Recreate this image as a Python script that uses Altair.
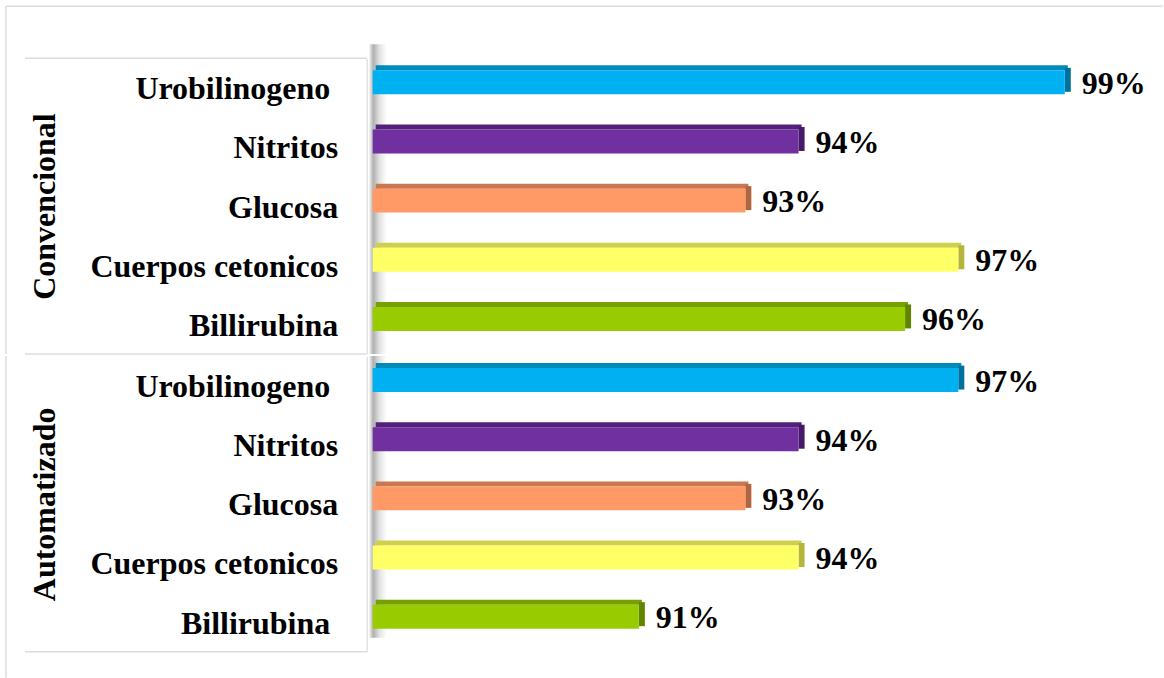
import altair as alt
import pandas as pd

groups = ["Convencional", "Automatizado"]
categories = ["Urobilinogeno", "Nitritos", "Glucosa", "Cuerpos cetonicos", "Billirubina"]
conv_values = [99, 94, 93, 97, 96]
auto_values = [97, 94, 93, 94, 91]
front_colors = ["#00B0F0", "#7030A0", "#FF9966", "#FFFF66", "#99CC00"]
top_colors = ["#0089BD", "#53217A", "#C9774F", "#CFCF4E", "#76A000"]
side_colors = ["#00719C", "#461A66", "#B0653F", "#B5B53C", "#628500"]
x_domain = [86, 100]

FONT = "Liberation Serif"
LINE = "#D9DEE3"
W, H = 746, 296
FS = 32


def panel(group, values, is_top, pad_expr):
    df = pd.DataFrame({
        "label": categories,
        "value": values,
        "front": front_colors,
        "topc": top_colors,
        "side": side_colors,
    })
    df["txt"] = [f"{v}%" for v in values]
    one = pd.DataFrame({"k": [0]})

    y = alt.Y(
        "label:N",
        sort=categories,
        scale=alt.Scale(paddingInner=0, paddingOuter=0),
        axis=alt.Axis(
            title=group, titleFont=FONT, titleFontSize=FS, titleFontWeight="bold",
            titleColor="black", titleX=-322, titleAlign="center", titleBaseline="middle",
            titleAngle=270,
            labelFont=FONT, labelFontSize=FS, labelFontWeight="bold", labelColor="black",
            labelOffset=1.5,
            labelPadding=alt.expr(pad_expr), labelLimit=500, ticks=False, grid=False,
            domainColor=LINE, domainWidth=1.2, offset=6,
        ),
    )
    x = alt.X("value:Q", scale=alt.Scale(domain=x_domain, nice=False, zero=False), axis=None)
    base = alt.Chart(df)

    wall = alt.Chart(one).mark_rect(
        color=alt.Gradient(
            gradient="linear", x1=0, x2=1, y1=0, y2=0,
            stops=[alt.GradientStop(color="#FFFFFF", offset=0),
                   alt.GradientStop(color="#B0B0B0", offset=0.25),
                   alt.GradientStop(color="#E2E2E2", offset=0.6),
                   alt.GradientStop(color="#FFFFFF", offset=1)],
        )
    ).encode(
        x=alt.value(-4), x2=alt.value(14),
        y=alt.value(-14 if is_top else 0), y2=alt.value(H if is_top else 282),
    )

    rules = [
        alt.Chart(one).mark_rule(color=LINE, strokeWidth=1.5).encode(
            x=alt.value(-348), x2=alt.value(-6), y=alt.value(H)),
        alt.Chart(one).mark_rule(color=LINE, strokeWidth=1.5).encode(
            x=alt.value(-367), y=alt.value(-52 if is_top else 0), y2=alt.value(H if is_top else 322)),
    ]
    if is_top:
        rules += [
            alt.Chart(one).mark_rule(color=LINE, strokeWidth=1.5).encode(
                x=alt.value(-348), x2=alt.value(-6), y=alt.value(0)),
            alt.Chart(one).mark_rule(color=LINE, strokeWidth=1.5).encode(
                x=alt.value(-367), x2=alt.value(791), y=alt.value(-52)),
        ]

    top_face = base.mark_bar(height=5, yOffset=-20, xOffset=3, x2Offset=3).encode(
        y=y, x=x, x2=alt.X2(datum=x_domain[0]), color=alt.Color("topc:N", scale=None))
    side_face = base.mark_bar(height=24, yOffset=-8, x2Offset=6).encode(
        y=y, x=x, x2=alt.X2("value:Q"), color=alt.Color("side:N", scale=None))
    front_face = base.mark_bar(height=24, yOffset=-5.5).encode(
        y=y, x=x, x2=alt.X2(datum=x_domain[0]), color=alt.Color("front:N", scale=None))
    text = base.mark_text(
        align="left", baseline="middle", dx=17, dy=-4,
        font=FONT, fontSize=FS, fontWeight="bold", color="black",
    ).encode(y=y, x=x, text="txt:N")

    return alt.layer(wall, *rules, top_face, side_face, front_face, text).properties(width=W, height=H)


chart = alt.vconcat(
    panel(groups[0], conv_values, True, "datum.value == 'Urobilinogeno' ? 37 : 29"),
    panel(groups[1], auto_values, False,
          "datum.value == 'Urobilinogeno' || datum.value == 'Billirubina' ? 37 : 29"),
    spacing=0,
).properties(
    padding={"left": 5, "top": 5, "right": 0, "bottom": 0},
    background="white",
).configure_view(stroke=None)

chart.save("out.html", embed_options={"renderer": "svg", "actions": False})
